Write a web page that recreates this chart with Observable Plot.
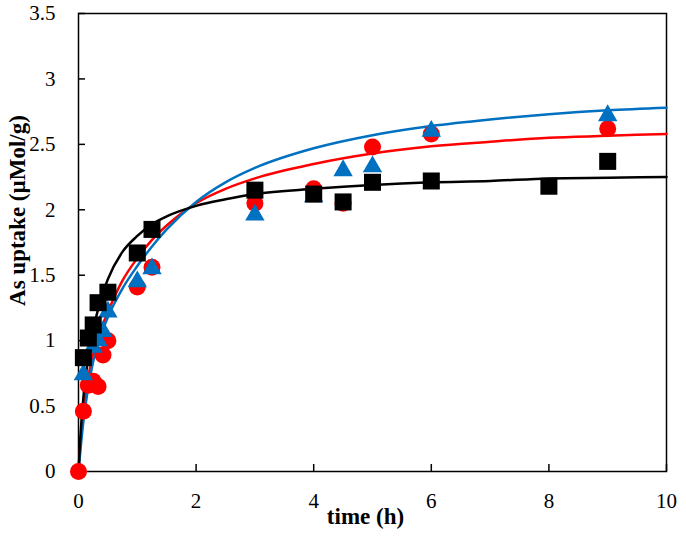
<!DOCTYPE html>
<html>
<head>
<meta charset="utf-8">
<script src="https://cdn.jsdelivr.net/npm/d3@7"></script>
<script src="https://cdn.jsdelivr.net/npm/@observablehq/plot@0.6"></script>
<style>
  html, body { margin: 0; padding: 0; background: #fff; }
  svg text { font-family: "Liberation Serif", "Times New Roman", serif !important; }
</style>
</head>
<body>
<div id="chart"></div>
<script>
// ---- data ----
const xTicks = [0, 2, 4, 6, 8, 10];
const yTicks = [0, 0.5, 1, 1.5, 2, 2.5, 3, 3.5];

// measured points
const redT   = [0, 0.083, 0.167, 0.25, 0.333, 0.417, 0.5, 1, 1.25, 3, 4, 4.5, 5, 6, 9];
const redQ   = [0, 0.46, 0.66, 0.69, 0.65, 0.89, 1.0, 1.41, 1.56, 2.05, 2.16, 2.05, 2.48, 2.58, 2.62];
const blueT  = [0.083, 0.25, 0.333, 0.417, 0.5, 1, 1.25, 3, 4, 4.5, 5, 6, 9];
const blueQ  = [0.74, 0.95, 1.0, 1.07, 1.22, 1.45, 1.55, 1.96, 2.1, 2.3, 2.33, 2.6, 2.72];
const blackT = [0.083, 0.167, 0.25, 0.333, 0.5, 1, 1.25, 3, 4, 4.5, 5, 6, 8, 9];
const blackQ = [0.87, 1.02, 1.12, 1.29, 1.37, 1.67, 1.85, 2.15, 2.12, 2.06, 2.21, 2.22, 2.18, 2.37];

// fitted curves
const curveT  = [0, 0.03, 0.08, 0.15, 0.25, 0.35, 0.5, 0.75, 1, 1.25, 1.5, 2, 2.5, 3, 4, 5, 6, 7, 8, 9, 10];
const redFit  = [0, 0.2, 0.45, 0.68, 0.9, 1.05, 1.22, 1.46, 1.63, 1.77, 1.88, 2.05, 2.16, 2.24, 2.35, 2.43, 2.485, 2.52, 2.55, 2.565, 2.58];
const blueFit = [0, 0.15, 0.37, 0.6, 0.84, 1.0, 1.18, 1.4, 1.57, 1.72, 1.85, 2.06, 2.21, 2.32, 2.47, 2.57, 2.64, 2.69, 2.73, 2.76, 2.78];
const blackFit= [0, 0.25, 0.55, 0.82, 1.08, 1.27, 1.47, 1.68, 1.8, 1.89, 1.95, 2.03, 2.08, 2.12, 2.16, 2.19, 2.21, 2.22, 2.24, 2.245, 2.25];

const toRows = (xs, ys) => xs.map((x, i) => ({x, y: ys[i]}));
const red = toRows(redT, redQ), blue = toRows(blueT, blueQ), black = toRows(blackT, blackQ);
const redC = toRows(curveT, redFit), blueC = toRows(curveT, blueFit), blackC = toRows(curveT, blackFit);

const RED = "#FF0000", BLUE = "#0070C0", BLACK = "#000000";
const SERIF = "Liberation Serif, Times New Roman, serif";
const fmt = d => String(d);

const chart = Plot.plot({
  width: 686,
  height: 538,
  marginLeft: 78,
  marginRight: 20,
  marginTop: 13,
  marginBottom: 67,
  style: {fontFamily: SERIF, fontSize: "20px", background: "#fff", color: "#000"},
  x: {domain: [0, 10]},
  y: {domain: [0, 3.5]},
  marks: [
    Plot.frame({stroke: "#000", strokeWidth: 1.5}),
    // inward ticks
    Plot.axisX(xTicks, {tickSize: -7, tickFormat: () => "", strokeWidth: 1.5, label: null}),
    Plot.axisY(yTicks, {tickSize: -7, tickFormat: () => "", strokeWidth: 1.5, label: null}),
    // tick labels
    Plot.axisX(xTicks, {tickSize: 0, tickPadding: 22, tickFormat: fmt, fontSize: 21, fontFamily: SERIF, label: null}),
    Plot.axisY(yTicks, {tickSize: 0, tickPadding: 23, tickFormat: fmt, fontSize: 21, fontFamily: SERIF, label: null}),
    // fitted curves
    Plot.line(redC,   {x: "x", y: "y", stroke: RED,   strokeWidth: 2.5, curve: "monotone-x"}),
    Plot.line(blueC,  {x: "x", y: "y", stroke: BLUE,  strokeWidth: 2.5, curve: "monotone-x"}),
    Plot.line(blackC, {x: "x", y: "y", stroke: BLACK, strokeWidth: 2.5, curve: "monotone-x"}),
    // markers
    Plot.dot(red,   {x: "x", y: "y", r: 8.5, fill: RED, symbol: "circle"}),
    Plot.dot(blue,  {x: "x", y: "y", r: 7.2, fill: BLUE, symbol: "triangle"}),
    Plot.dot(black, {x: "x", y: "y", r: 9.6, fill: BLACK, symbol: "square"}),
    // axis titles
    Plot.text(["time (h)"], {frameAnchor: "bottom", textAnchor: "middle", dy: 52, dx: -7, fontWeight: "bold", fontSize: 23, fontFamily: SERIF, fill: "#000"}),
    Plot.text(["As uptake (µMol/g)"], {frameAnchor: "left", textAnchor: "middle", rotate: -90, dx: -61, dy: -32, fontWeight: "bold", fontSize: 23, fontFamily: SERIF, fill: "#000"})
  ]
});
document.getElementById("chart").appendChild(chart);
</script>
</body>
</html>
